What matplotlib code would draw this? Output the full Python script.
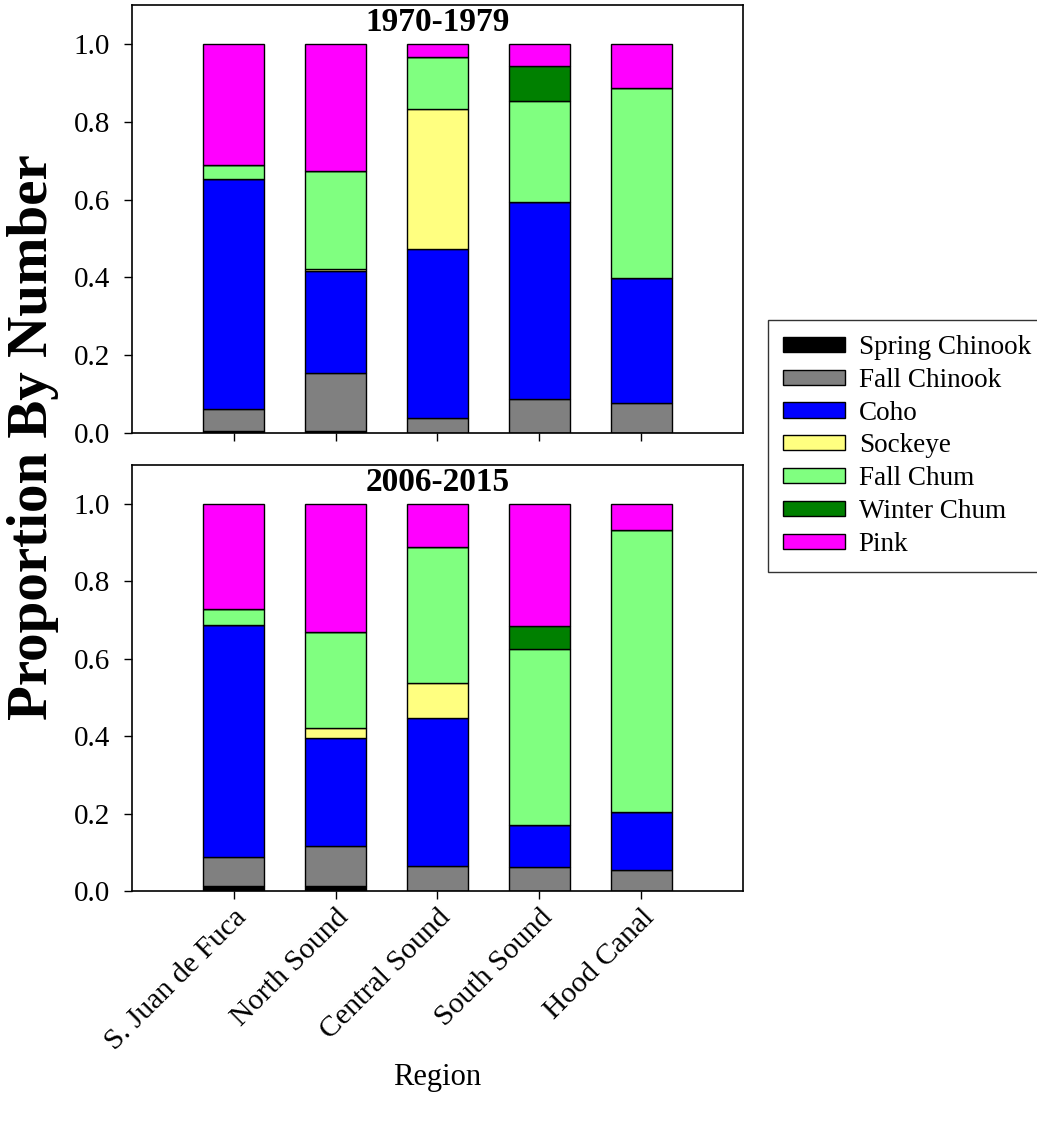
"""Stacked proportion-by-number bars for salmon species by Puget Sound region."""

import matplotlib
matplotlib.use("Agg")
import matplotlib.pyplot as plt
import numpy as np

plt.rcParams["font.family"] = ["Liberation Serif", "DejaVu Serif"]

regions = ["S. Juan de Fuca", "North Sound", "Central Sound", "South Sound", "Hood Canal"]
species = ["Spring Chinook", "Fall Chinook", "Coho", "Sockeye",
           "Fall Chum", "Winter Chum", "Pink"]
colors = ["#000000", "#808080", "#0000ff", "#ffff80", "#80ff80", "#008000", "#ff00ff"]

# proportions per species (bottom to top), one value per region
early_period = "1970-1979"
early_spring_chinook = [0.005, 0.005, 0.0, 0.0, 0.0]
early_fall_chinook = [0.056, 0.150, 0.038, 0.087, 0.078]
early_coho = [0.591, 0.261, 0.434, 0.506, 0.321]
early_sockeye = [0.0, 0.006, 0.360, 0.0, 0.0]
early_fall_chum = [0.036, 0.252, 0.135, 0.259, 0.488]
early_winter_chum = [0.0, 0.0, 0.0, 0.090, 0.0]
early_pink = [0.312, 0.326, 0.033, 0.058, 0.113]

late_period = "2006-2015"
late_spring_chinook = [0.014, 0.013, 0.0, 0.0, 0.0]
late_fall_chinook = [0.073, 0.103, 0.065, 0.063, 0.053]
late_coho = [0.600, 0.279, 0.383, 0.107, 0.151]
late_sockeye = [0.0, 0.027, 0.088, 0.0, 0.0]
late_fall_chum = [0.041, 0.247, 0.351, 0.455, 0.727]
late_winter_chum = [0.0, 0.0, 0.0, 0.059, 0.0]
late_pink = [0.272, 0.331, 0.113, 0.316, 0.069]

early = [early_spring_chinook, early_fall_chinook, early_coho, early_sockeye,
         early_fall_chum, early_winter_chum, early_pink]
late = [late_spring_chinook, late_fall_chinook, late_coho, late_sockeye,
        late_fall_chum, late_winter_chum, late_pink]

W, H = 1037, 1124
fig = plt.figure(figsize=(W / 100, H / 100), dpi=100)
ax_top = fig.add_axes([132 / W, 1 - 433 / H, 611 / W, 428 / H])
ax_bot = fig.add_axes([132 / W, 1 - 891 / H, 611 / W, 426 / H])

x = np.arange(len(regions))


def draw_panel(ax, data, title):
    bottom = np.zeros(len(regions))
    handles = []
    for name, vals, col in zip(species, data, colors):
        vals = np.asarray(vals)
        h = ax.bar(x, vals, width=0.6, bottom=bottom, color=col,
                   edgecolor="black", linewidth=1.0, label=name)
        handles.append(h)
        bottom += vals
    ax.set_xlim(-1, 5)
    ax.set_ylim(0, 1.1)
    ticks = np.arange(0, 1.01, 0.2)
    ax.set_yticks(ticks)
    ax.set_yticklabels([f"{v:.1f}" for v in ticks])
    ax.set_xticks(x)
    ax.tick_params(direction="out", length=6, width=1, labelsize=21)
    ax.tick_params(axis="y", pad=10)
    for s in ax.spines.values():
        s.set_linewidth(1.2)
    ax.text(0.5, 0.995, title, transform=ax.transAxes, ha="center", va="top",
            fontsize=24, fontweight="bold")
    return handles


draw_panel(ax_top, early, early_period)
ax_top.set_xticklabels([])
handles = draw_panel(ax_bot, late, late_period)
ax_bot.set_xticklabels(regions, rotation=45, ha="right", rotation_mode="anchor",
                       fontsize=21.5)

fig.text(437 / W, 1 - 1078 / H, "Region", ha="center", va="center", fontsize=22)
fig.text(33 / W, 1 - 437 / H, "Proportion By Number", rotation=90,
         ha="center", va="center", fontsize=41, fontweight="bold")

leg = fig.legend(handles, species, loc="upper left",
                 bbox_to_anchor=(768 / W, 1 - 320 / H), fontsize=19.5,
                 frameon=True, fancybox=False, edgecolor="black",
                 handlelength=2.3, handleheight=0.48, labelspacing=0.29,
                 borderpad=0.55, borderaxespad=0, handletextpad=0.5)
leg.get_frame().set_linewidth(1.0)

fig.savefig("out.png", dpi=100)
